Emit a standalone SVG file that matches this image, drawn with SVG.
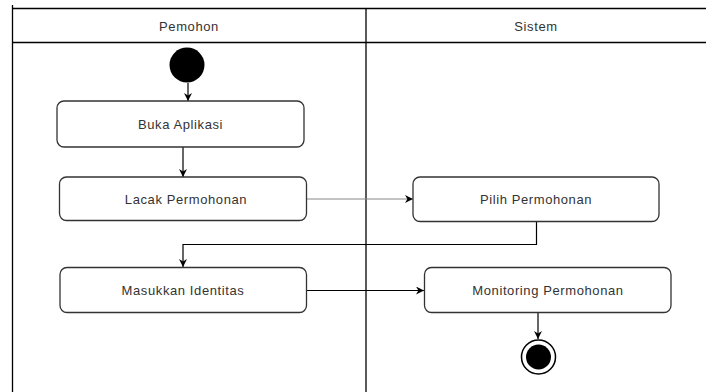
<svg xmlns="http://www.w3.org/2000/svg" width="706" height="392" viewBox="0 0 706 392">
<style>
.lane{fill:none;stroke:#000;stroke-width:1.3}
.box{fill:#fff;stroke:#333;stroke-width:1.3}
.t{font-family:"Liberation Sans",Arial,sans-serif;font-size:13px;letter-spacing:0.6px;fill:#333;text-anchor:middle;dominant-baseline:central}
.c{fill:none;stroke:#000;stroke-width:1.2}
</style>
<defs>
<marker id="ah" viewBox="0 0 10 10" refX="10" refY="5" markerWidth="8" markerHeight="8" markerUnits="userSpaceOnUse" orient="auto">
<path d="M0,0 L10,5 L0,10 L3,5 Z" fill="#000"/>
</marker>
</defs>
<rect width="706" height="392" fill="#fff"/>
<g id="lanes">
<line class="lane" x1="12.5" y1="5" x2="12.5" y2="392"/>
<line class="lane" x1="12" y1="8.5" x2="706" y2="8.5"/>
<line class="lane" x1="12" y1="42.5" x2="706" y2="42.5"/>
<line class="lane" x1="366" y1="8" x2="366" y2="392"/>
<text class="t" x="189" y="26">Pemohon</text>
<text class="t" x="536" y="26">Sistem</text>
</g>
<g id="connectors">
<path class="c" d="M188,83 L188,101" marker-end="url(#ah)"/>
<path class="c" d="M183,147 L183,177" marker-end="url(#ah)"/>
<path class="c" d="M307,199 L413,199" marker-end="url(#ah)" style="stroke:#888"/>
<path class="c" d="M536.5,221.5 L536.5,244.5 L183,244.5 L183,267" marker-end="url(#ah)"/>
<path class="c" d="M307,290.5 L424,290.5" marker-end="url(#ah)"/>
<path class="c" d="M538,312.5 L538,339" marker-end="url(#ah)"/>
</g>
<g id="start">
<circle cx="187" cy="65" r="17.5" fill="#000"/>
</g>
<g id="buka">
<rect class="box" x="57" y="101" width="247" height="46" rx="7"/>
<text class="t" x="180.5" y="124">Buka Aplikasi</text>
</g>
<g id="lacak">
<rect class="box" x="59.5" y="177" width="247" height="43.5" rx="7"/>
<text class="t" x="186" y="199">Lacak Permohonan</text>
</g>
<g id="pilih">
<rect class="box" x="413" y="177" width="246" height="44.5" rx="7"/>
<text class="t" x="536" y="199">Pilih Permohonan</text>
</g>
<g id="masukkan">
<rect class="box" x="60" y="267.5" width="246.5" height="45" rx="7"/>
<text class="t" x="183" y="290">Masukkan Identitas</text>
</g>
<g id="monitoring">
<rect class="box" x="424.5" y="267.5" width="246.5" height="45" rx="7"/>
<text class="t" x="548" y="290">Monitoring Permohonan</text>
</g>
<g id="end">
<circle cx="538.5" cy="357" r="17" fill="#fff" stroke="#000" stroke-width="1.5"/>
<circle cx="538.5" cy="357" r="12.5" fill="#000"/>
</g>
</svg>
